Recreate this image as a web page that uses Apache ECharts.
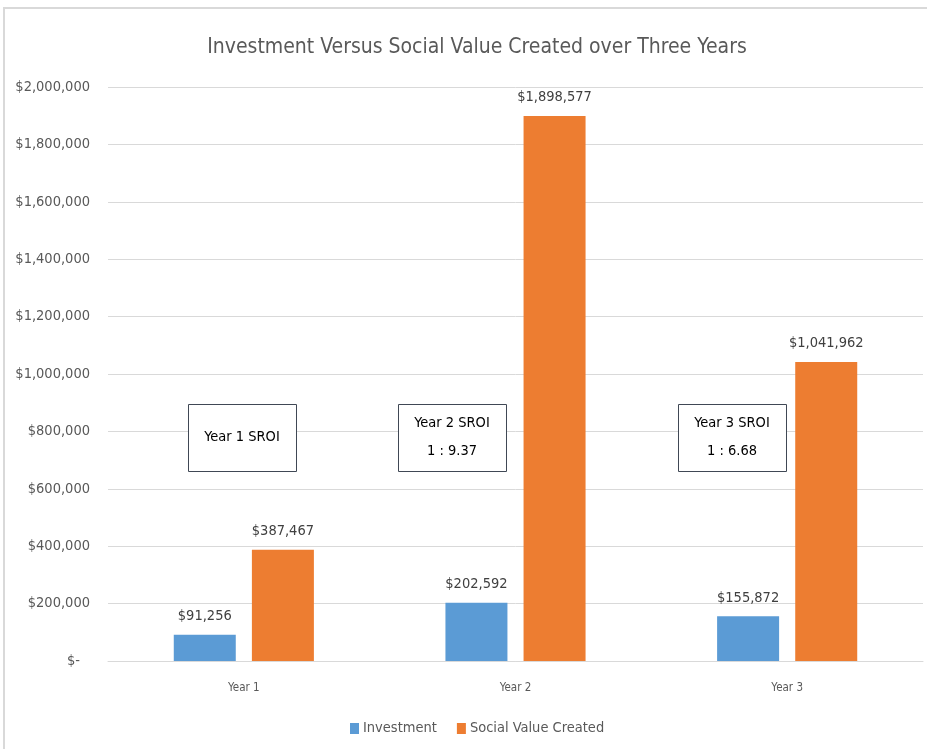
<!DOCTYPE html>
<html>
<head>
<meta charset="utf-8">
<script src="https://cdn.jsdelivr.net/npm/echarts@6/dist/echarts.min.js"></script>
<style>
html,body{margin:0;padding:0;background:#fff;}
#main{width:927px;height:749px;}
</style>
</head>
<body>
<div id="main"></div>
<script>
const categories = ['Year 1', 'Year 2', 'Year 3'];
const investment = [91256, 202592, 155872];
const socialValue = [387467, 1898577, 1041962];
const yTicks = [0, 200000, 400000, 600000, 800000, 1000000, 1200000, 1400000, 1600000, 1800000, 2000000];
const sroiBoxes = [
  ['Year 1 SROI'],
  ['Year 2 SROI', '1 : 9.37'],
  ['Year 3 SROI', '1 : 6.68']
];

const FONT = "'DejaVu Sans Condensed', 'Liberation Sans Narrow', sans-serif";
const money = v => '$' + Math.round(v).toLocaleString('en-US');

const chart = echarts.init(document.getElementById('main'), null, {renderer: 'canvas'});

const boxPos = [[188, 404], [398, 404], [678, 404]];
const boxW = 108, boxH = 67;

const graphics = [
  {type: 'rect', shape: {x: 4, y: 8, width: 960, height: 800}, style: {fill: 'none', stroke: '#D9D9D9', lineWidth: 2}, silent: true, z: 0}
];
sroiBoxes.forEach((lines, i) => {
  graphics.push({
    type: 'rect', left: boxPos[i][0], top: boxPos[i][1], z: 100, zlevel: 1,
    shape: {x: 0, y: 0, width: boxW, height: boxH},
    style: {fill: '#ffffff', stroke: '#404855', lineWidth: 1}
  });
  graphics.push({
    type: 'text', z: 101, zlevel: 1,
    x: boxPos[i][0] + boxW / 2, y: boxPos[i][1] + boxH / 2,
    style: {text: lines.join('\n'), font: '14.5px ' + FONT, lineHeight: 28, fill: '#000', align: 'center', verticalAlign: 'middle'}
  });
});

chart.setOption({
  backgroundColor: '#fff',
  animation: false,
  title: {
    text: 'Investment Versus Social Value Created over Three Years',
    left: 472, top: 32, textAlign: 'center',
    textStyle: {fontFamily: FONT, fontSize: 21, fontWeight: 'normal', color: '#595959'}
  },
  grid: {left: 108, right: 4, top: 87, bottom: 88, containLabel: false},
  legend: {
    bottom: 8, left: 345,
    itemWidth: 9, itemHeight: 11, itemGap: 20,
    icon: 'rect',
    textStyle: {fontFamily: FONT, fontSize: 14.5, color: '#595959', padding: [0, 0, 0, -1]},
    data: ['Investment', 'Social Value Created']
  },
  xAxis: {
    type: 'category', data: categories,
    axisLine: {show: true, lineStyle: {color: '#D9D9D9', width: 1}},
    axisTick: {show: false},
    axisLabel: {fontFamily: FONT, fontSize: 11.5, color: '#595959', margin: 21}
  },
  yAxis: {
    type: 'value', min: 0, max: 2000000, interval: 200000,
    axisLine: {show: false}, axisTick: {show: false},
    splitLine: {lineStyle: {color: '#D9D9D9', width: 1}},
    axisLabel: {
      fontFamily: FONT, fontSize: 14.5, color: '#595959', margin: 18,
      formatter: v => v === 0 ? '{z|$-}' : money(v),
      rich: {z: {fontFamily: FONT, fontSize: 14.5, color: '#595959', padding: [0, 10, 0, 0]}}
    }
  },
  series: [
    {
      name: 'Investment', type: 'bar', data: investment,
      barWidth: 62, barGap: '26%',
      itemStyle: {color: '#5B9BD5'},
      label: {show: true, position: 'top', distance: 11, formatter: p => money(p.value), fontFamily: FONT, fontSize: 14.5, color: '#404040'}
    },
    {
      name: 'Social Value Created', type: 'bar', data: socialValue,
      barWidth: 62,
      itemStyle: {color: '#ED7D31'},
      label: {show: true, position: 'top', distance: 11, formatter: p => money(p.value), fontFamily: FONT, fontSize: 14.5, color: '#404040'}
    }
  ],
  graphic: graphics
});
</script>
</body>
</html>
